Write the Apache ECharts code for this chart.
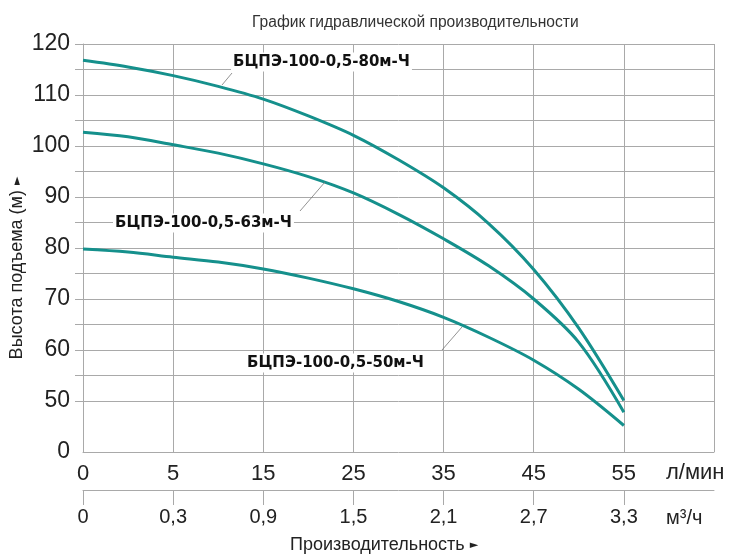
<!DOCTYPE html>
<html>
<head>
<meta charset="utf-8">
<script src="https://cdn.jsdelivr.net/npm/echarts@6/dist/echarts.min.js"></script>
<style>
html,body{margin:0;padding:0;background:#fff;}
#chart{width:745px;height:558px;}
</style>
</head>
<body>
<div id="chart"></div>
<script>
// Tick labels (evenly spaced grid columns)
var flowLpmLabels = ['0', '5', '15', '25', '35', '45', '55'];
var flowM3hLabels = ['0', '0,3', '0,9', '1,5', '2,1', '2,7', '3,3'];
var headTickValues = [40, 50, 60, 70, 80, 90, 100, 110, 120];
var headTickLabels = ['0', '50', '60', '70', '80', '90', '100', '110', '120'];

// Sample positions, in grid-column units (0 = "0", 1 = "5", ... 6 = "55")
var xPos = [0, 0.5, 1, 1.5, 2, 2.5, 3, 3.5, 4, 4.5, 5, 5.5, 6];

// Head (m)
var head80 = [116.8, 115.5, 113.8, 111.7, 109.2, 105.9, 102.1, 97.3, 91.8, 84.8, 75.8, 64.3, 50.1];
var head63 = [102.7, 101.8, 100.25, 98.6, 96.5, 94.0, 90.8, 86.6, 81.8, 76.5, 70.0, 61.5, 47.8];
var head50 = [79.8, 79.2, 78.2, 77.25, 75.9, 74.1, 72.0, 69.5, 66.4, 62.5, 58.0, 52.3, 45.2];

var seriesNames = ['БЦПЭ-100-0,5-80м-Ч', 'БЦПЭ-100-0,5-63м-Ч', 'БЦПЭ-100-0,5-50м-Ч'];

function pairs(ys) { return xPos.map(function (x, i) { return [x, ys[i]]; }); }

var gridColor = '#a9a9a9';
var curveColor = '#15908c';
var sansFont = '"Liberation Sans", Arial, sans-serif';
var boldFont = '"DejaVu Sans", Verdana, sans-serif';

var chart = echarts.init(document.getElementById('chart'), null, {renderer: 'canvas'});

function curve(name, ys) {
  return {
    name: name, type: 'line', data: pairs(ys), smooth: 0.33,
    showSymbol: false, symbol: 'none',
    lineStyle: {color: curveColor, width: 3},
    itemStyle: {color: curveColor},
    xAxisIndex: 0, yAxisIndex: 0, z: 3
  };
}

var labelStyle = {
  fontFamily: boldFont, fontSize: 15, fontWeight: 'bold', fill: '#111',
  backgroundColor: '#fff', padding: [2, 2, 2, 2],
  verticalAlign: 'middle', align: 'left'
};

var option = {
  animation: false,
  backgroundColor: '#fff',
  title: {
    text: 'График гидравлической производительности',
    left: 247, top: 10,
    textStyle: {fontFamily: sansFont, fontSize: 15.6, fontWeight: 'normal', color: '#333'}
  },
  grid: {left: 83, right: 31, top: 44, bottom: 106, containLabel: false},
  xAxis: [{
    type: 'value', min: 0, max: 7, interval: 1, position: 'bottom',
    axisLine: {show: true, lineStyle: {color: gridColor, width: 1}},
    axisTick: {show: false},
    axisLabel: {
      fontFamily: sansFont, fontSize: 22, color: '#222', margin: 11,
      customValues: [0, 1, 2, 3, 4, 5, 6],
      formatter: function (v) { return flowLpmLabels[Math.round(v)] || ''; }
    },
    splitLine: {show: true, lineStyle: {color: gridColor, width: 1}}
  }, {
    type: 'value', min: 0, max: 7, interval: 1, position: 'bottom', offset: 38,
    axisLine: {show: true, lineStyle: {color: gridColor, width: 1}},
    axisTick: {show: true, inside: false, length: 15, lineStyle: {color: gridColor},
      customValues: [0, 1, 2, 3, 4, 5, 6]},
    axisLabel: {
      fontFamily: sansFont, fontSize: 20, color: '#222', margin: 17,
      customValues: [0, 1, 2, 3, 4, 5, 6],
      formatter: function (v) { return flowM3hLabels[Math.round(v)] || ''; }
    },
    splitLine: {show: false}
  }],
  yAxis: {
    type: 'value', min: 40, max: 120, interval: 10,
    axisLine: {show: true, lineStyle: {color: gridColor, width: 1}},
    axisTick: {show: true, inside: false, length: 8, lineStyle: {color: gridColor},
      customValues: [50, 55, 60, 65, 70, 75, 80, 85, 90, 95, 100, 105, 110, 115, 120]},
    axisLabel: {
      fontFamily: sansFont, fontSize: 23, color: '#222', margin: 13,
      customValues: headTickValues,
      formatter: function (v) {
        var i = headTickValues.indexOf(Math.round(v));
        return i >= 0 ? headTickLabels[i] : '';
      }
    },
    splitLine: {show: true, lineStyle: {color: gridColor, width: 1}}
  },
  series: [curve(seriesNames[0], head80), curve(seriesNames[1], head63), curve(seriesNames[2], head50)],
  graphic: [
    // units
    {type: 'text', x: 666, y: 473, z: 10, style: {text: 'л/мин', fontFamily: sansFont, fontSize: 22, fill: '#222', verticalAlign: 'middle'}},
    {type: 'text', x: 666, y: 518, z: 10, style: {text: 'м³/ч', fontFamily: sansFont, fontSize: 20, fill: '#222', verticalAlign: 'middle'}},
    // axis names
    {type: 'text', x: 290, y: 545, z: 10, style: {
      text: 'Производительность {a|►}', fontFamily: sansFont, fontSize: 18, fill: '#222', verticalAlign: 'middle',
      rich: {a: {fontSize: 11, fontFamily: '"DejaVu Sans", sans-serif', fill: '#222'}}}},
    {type: 'text', x: 17, y: 268, rotation: Math.PI / 2, z: 10, style: {
      text: 'Высота подъема (м) {a|►}', fontFamily: sansFont, fontSize: 18, fill: '#222', align: 'center', verticalAlign: 'middle',
      rich: {a: {fontSize: 11, fontFamily: '"DejaVu Sans", sans-serif', fill: '#222'}}}},
    // leader lines
    {type: 'line', z: 5, shape: {x1: 222, y1: 85, x2: 232, y2: 73}, style: {stroke: '#777', lineWidth: 0.8}},
    {type: 'line', z: 5, shape: {x1: 300, y1: 211, x2: 325, y2: 182}, style: {stroke: '#777', lineWidth: 0.8}},
    {type: 'line', z: 5, shape: {x1: 442, y1: 350, x2: 462, y2: 327}, style: {stroke: '#777', lineWidth: 0.8}},
    // curve labels
    {type: 'text', x: 231, y: 62, z: 6, style: Object.assign({text: seriesNames[0]}, labelStyle)},
    {type: 'text', x: 113, y: 223, z: 6, style: Object.assign({text: seriesNames[1]}, labelStyle)},
    {type: 'text', x: 245, y: 363, z: 6, style: Object.assign({text: seriesNames[2]}, labelStyle)}
  ]
};
chart.setOption(option);
</script>
</body>
</html>
